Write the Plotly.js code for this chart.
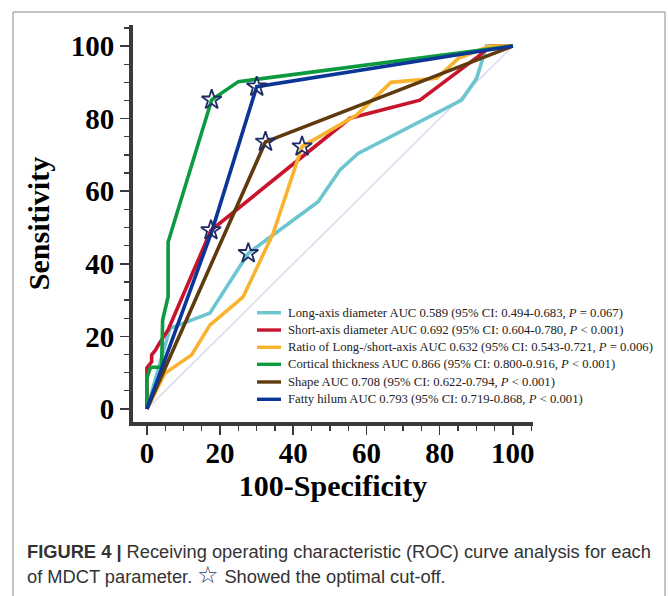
<!DOCTYPE html>
<html>
<head>
<meta charset="utf-8">
<script src="https://cdn.plot.ly/plotly-3.0.1.min.js"></script>
<style>
html,body{margin:0;padding:0;background:#fff;}
#chart{width:668px;height:596px;}
</style>
</head>
<body>
<div id="chart"></div>
<script>
// ---- data ----
const seriesNames = [
  'Long-axis diameter AUC 0.589 (95% CI: 0.494-0.683, <i>P</i> = 0.067)',
  'Short-axis diameter AUC 0.692 (95% CI: 0.604-0.780, <i>P</i> < 0.001)',
  'Ratio of Long-/short-axis AUC 0.632 (95% CI: 0.543-0.721, <i>P</i> = 0.006)',
  'Cortical thickness AUC 0.866 (95% CI: 0.800-0.916, <i>P</i> < 0.001)',
  'Shape AUC 0.708 (95% CI: 0.622-0.794, <i>P</i> < 0.001)',
  'Fatty hilum AUC 0.793 (95% CI: 0.719-0.868, <i>P</i> < 0.001)'
];
const seriesColors = ['#6cc5cf', '#c8142c', '#f8b431', '#0c9a40', '#5f3a0c', '#0b3597'];

const longX  = [0, 3, 6.3, 17.2, 27.7, 46.8, 52.7, 57.7, 69.1, 86, 90.1, 91.9, 92.8, 100];
const longY  = [0, 11, 22.2, 26.4, 42.9, 57.1, 65.8, 70.4, 76.4, 85.1, 91.1, 97.5, 100, 100];

const shortX = [0, 0, 1.3, 1.3, 2.4, 3.1, 5.8, 17.5, 55.5, 74.6, 91, 93.7, 100];
const shortY = [0, 11.3, 13, 14.9, 16.3, 17.6, 21.8, 49.2, 80.1, 85.1, 97.5, 100, 100];

const ratioX = [0, 4.9, 12.2, 17.2, 26.3, 31.8, 34.5, 42.4, 57.3, 66.7, 79.2, 85.1, 93.7, 100];
const ratioY = [0, 9.8, 14.9, 23.1, 30.9, 42.9, 48.4, 72.3, 81, 90, 91.1, 96.6, 100, 100];

const cortX  = [0, 0, 1, 4, 4.3, 5.8, 5.8, 17.7, 25, 100];
const cortY  = [0, 8.5, 11.5, 11.5, 24.5, 31, 46, 85.2, 90.2, 100];

const shapeX = [0, 32.4, 100];
const shapeY = [0, 73.6, 100];

const fatX   = [0, 17.7, 30, 100];
const fatY   = [0, 48.8, 88.8, 100];

// optimal cut-off points (stars), same order as seriesNames
const cutX = [27.7, 17.5, 42.4, 17.7, 32.4, 30];
const cutY = [42.9, 49.2, 72.3, 85.2, 73.6, 88.8];

const refX = [0, 100];
const refY = [0, 100];

const xTicks = [0, 20, 40, 60, 80, 100];
const yTicks = [0, 20, 40, 60, 80, 100];

// ---- traces ----
const xs = [longX, shortX, ratioX, cortX, shapeX, fatX];
const ys = [longY, shortY, ratioY, cortY, shapeY, fatY];

const traces = [{
  x: refX, y: refY, mode: 'lines', showlegend: false, hoverinfo: 'skip',
  line: {color: '#dcdcef', width: 1.6}
}];
for (let i = 0; i < 6; i++) {
  traces.push({
    x: xs[i], y: ys[i], mode: 'lines', name: seriesNames[i], showlegend: false,
    line: {color: seriesColors[i], width: 3.6}
  });
}
traces.push({
  x: cutX, y: cutY, mode: 'markers', showlegend: false,
  marker: {symbol: 'star-open', size: 15, color: '#1f2c66', line: {width: 1.8, color: '#1f2c66'}}
});

const serif = 'Liberation Serif, Times New Roman, serif';
const axisCommon = {
  showgrid: false, zeroline: false,
  showline: true, linecolor: '#3a3a3a', linewidth: 4,
  ticks: 'outside', ticklen: 9, tickwidth: 1.6, tickcolor: '#3a3a3a',
  minor: {dtick: 5, ticks: 'outside', ticklen: 5, tickwidth: 1.3, tickcolor: '#3a3a3a'},
  tickfont: {family: serif, size: 29, color: '#000', weight: 'bold'}
};

// ---- legend drawn as line samples + text rows ----
const legendRowY = [0.2753, 0.2317, 0.1882, 0.1453, 0.1008, 0.0572];
const shapes = [{
  type: 'rect', xref: 'paper', yref: 'paper',
  x0: -0.3, x1: 1.33, y0: -0.45, y1: 1.0327,
  line: {color: '#8a8a8a', width: 1}, layer: 'below'
}];
const annotations = [];
for (let i = 0; i < 6; i++) {
  shapes.push({
    type: 'line', xref: 'paper', yref: 'paper',
    x0: 0.31, x1: 0.37, y0: legendRowY[i], y1: legendRowY[i],
    line: {color: seriesColors[i], width: 3.4}
  });
  annotations.push({
    xref: 'paper', yref: 'paper', x: 0.385, y: legendRowY[i],
    xanchor: 'left', yanchor: 'middle', showarrow: false, borderpad: 0,
    font: {family: serif, size: 12.7, color: '#222'},
    text: seriesNames[i]
  });
}
const captionFont = {family: 'Liberation Sans Narrow, Liberation Sans, Arial, sans-serif', size: 18.3, color: '#333'};
annotations.push({
  xref: 'paper', yref: 'paper', x: -0.27, y: -0.325, xanchor: 'left', yanchor: 'middle',
  showarrow: false, align: 'left', font: captionFont,
  text: '<b>FIGURE 4 |</b> Receiving operating characteristic (ROC) curve analysis for each'
});
annotations.push({
  xref: 'paper', yref: 'paper', x: -0.27, y: -0.383, xanchor: 'left', yanchor: 'middle',
  showarrow: false, align: 'left', font: captionFont,
  text: 'of MDCT parameter. <span style="color:#2b3a70;font-size:24px">☆</span> Showed the optimal cut-off.'
});

const layout = {
  width: 668, height: 596,
  margin: {l: 133, r: 135, t: 25, b: 174},
  paper_bgcolor: '#fff', plot_bgcolor: '#fff',
  showlegend: false,
  xaxis: Object.assign({}, axisCommon, {
    range: [-3.8, 105.5], tickvals: xTicks, ticktext: xTicks.map(String),
    ticklabelstandoff: -7,
    title: {text: '100-Specificity', font: {family: serif, size: 30, color: '#000', weight: 'bold'}, standoff: 8}
  }),
  yaxis: Object.assign({}, axisCommon, {
    range: [-3.6, 105.8], tickvals: yTicks, ticktext: yTicks.map(String),
    title: {text: 'Sensitivity', font: {family: serif, size: 30, color: '#000', weight: 'bold'}, standoff: 13}
  }),
  shapes: shapes,
  annotations: annotations
};

Plotly.newPlot('chart', traces, layout, {displayModeBar: false, staticPlot: true});
</script>
</body>
</html>
